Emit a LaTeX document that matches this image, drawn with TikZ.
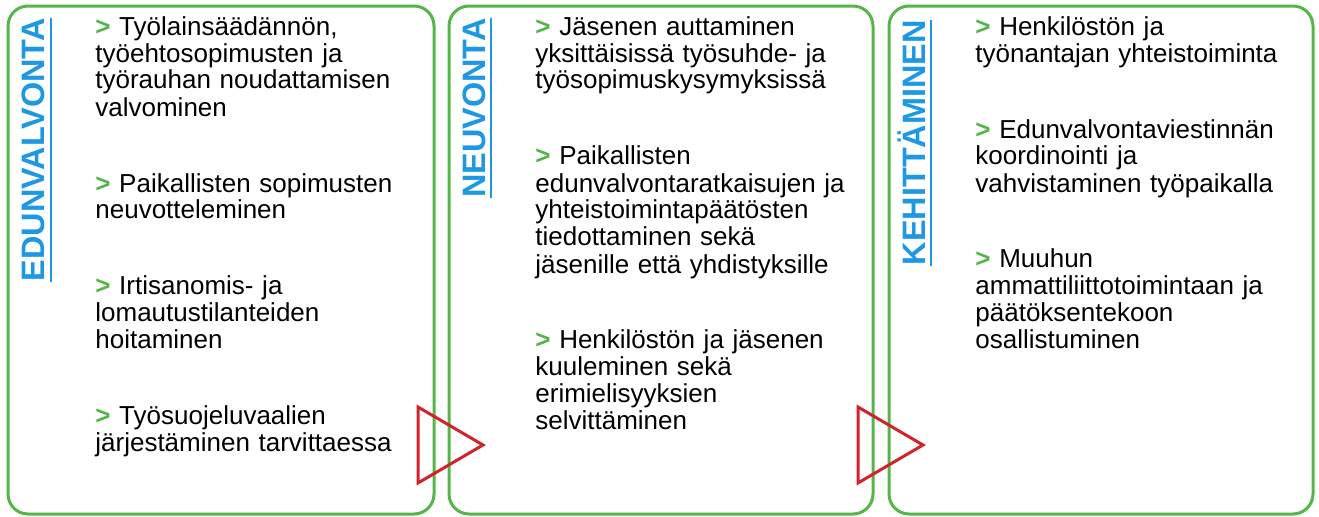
\documentclass[tikz,border=0pt]{standalone}
\usepackage{fontspec}
\setmainfont{Liberation Sans}
\usepackage{tikz}
\usetikzlibrary{
	positioning
}
\definecolor{framegreen}{RGB}{84,182,72}
\definecolor{titleblue}{RGB}{30,152,226}
\definecolor{arrowred}{RGB}{208,36,44}
\tikzset{
	panel/.style={
		draw=framegreen,
		line width=1.5pt,
		rounded corners=10pt
	},
	heading/.style={
		rotate=90,
		anchor=base east,
		inner sep=0pt,
		text=titleblue,
		font=\bfseries\fontsize{16.2}{16.2}\selectfont
	},
	points/.style={
		anchor=base west,
		inner sep=0pt,
		text width=178pt,
		align=left,
		font=\fontsize{13}{13.5}\selectfont
	},
	marker/.style={
		draw=arrowred,
		line width=1.5pt
	},
	underbar/.style={
		draw=titleblue,
		line width=1.1pt
	}
}
\newcommand{\gt}{\textcolor{framegreen}{\bfseries >}\ }

\begin{document}
\begin{tikzpicture}[x=0.5pt,y=0.5pt]
	\useasboundingbox (0,0) rectangle (1319,516);

	% panels
	\draw[panel] (8,510)   rectangle (434,2);
	\draw[panel] (449,510) rectangle (873,2);
	\draw[panel] (889,510) rectangle (1313,2);

	% headings
	\node[heading] (edu) at (45,498)  {EDUNVALVONTA};
	\node[heading] (neu) at (485,498) {NEUVONTA};
	\node[heading] (keh) at (925,496) {KEHITTÄMINEN};
	\foreach \t in {edu,neu,keh}
		\draw[underbar] ([xshift=3pt]\t.base west) -- ([xshift=3pt]\t.base east);

	% texts
	\node[points] (edutxt) at (95,481) {%
		\gt Työlainsäädännön,\\ työehtosopimusten ja\\ työrauhan noudattamisen\\ valvominen\\[24.5pt]
		\gt Paikallisten sopimusten\\ neuvotteleminen\\[24.5pt]
		\gt Irtisanomis- ja\\ lomautustilanteiden\\ hoitaminen\\[24.5pt]
		\gt Työsuojeluvaalien\\ järjestäminen tarvittaessa};
	\node[points] (neutxt) at (535,481) {%
		\gt Jäsenen auttaminen\\ yksittäisissä työsuhde- ja\\ työsopimuskysymyksissä\\[24.5pt]
		\gt Paikallisten\\ edunvalvontaratkaisujen ja\\ yhteistoimintapäätösten\\ tiedottaminen sekä\\ jäsenille että yhdistyksille\\[24.5pt]
		\gt Henkilöstön ja jäsenen\\ kuuleminen sekä\\ erimielisyyksien\\ selvittäminen};
	\node[points] (kehtxt) at (975,481) {%
		\gt Henkilöstön ja\\ työnantajan yhteistoiminta\\[24.5pt]
		\gt Edunvalvontaviestinnän\\ koordinointi ja\\ vahvistaminen työpaikalla\\[24.5pt]
		\gt Muuhun\\ ammattiliittotoimintaan ja\\ päätöksentekoon\\ osallistuminen};

	% arrows between panels
	\draw[marker] (418,109) -- (483,71) -- (418,33) -- cycle;
	\draw[marker] (858,109) -- (923,71) -- (858,33) -- cycle;
\end{tikzpicture}
\end{document}
